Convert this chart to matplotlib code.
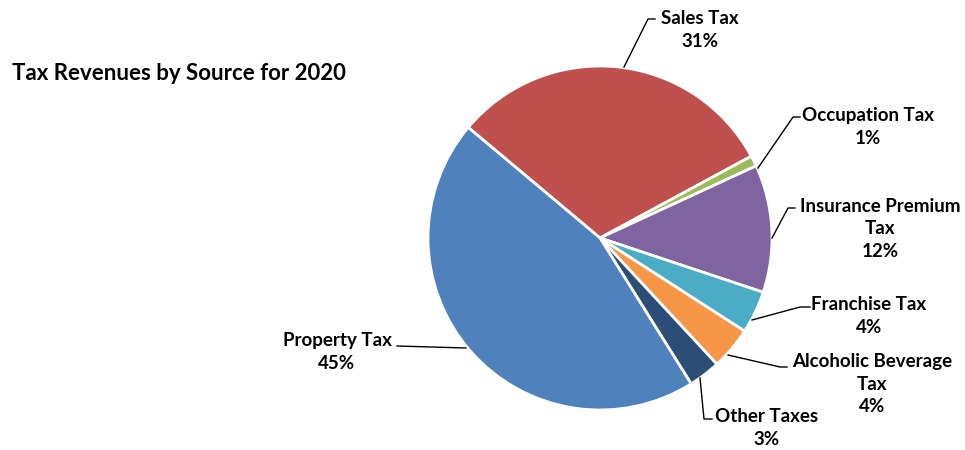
import matplotlib
matplotlib.use("Agg")
import matplotlib.pyplot as plt

# Tax revenue shares for 2020 (percent), clockwise from the top
sources = ['Sales Tax', 'Occupation Tax', 'Insurance Premium\nTax', 'Franchise Tax',
           'Alcoholic Beverage\nTax', 'Other Taxes', 'Property Tax']
shares = [31, 1, 12, 4, 4, 3, 45]
colors = ['#C0504D', '#9BBB59', '#8064A2', '#4BACC6', '#F79646', '#2C4D75', '#4F81BD']

plt.rcParams['font.family'] = ['Lato', 'DejaVu Sans']
plt.rcParams['font.weight'] = 'bold'

W, H = 965, 450
fig = plt.figure(figsize=(W / 100, H / 100), dpi=100)
ax = fig.add_axes([0, 0, 1, 1])

# pie placed in pixel space (y measured from the bottom)
cx, cy, r = 600, H - 238, 172
ax.pie(shares, colors=colors, startangle=140, counterclock=False,
       center=(cx, cy), radius=r, frame=True,
       wedgeprops=dict(edgecolor='white', linewidth=2))
ax.set_xlim(0, W)
ax.set_ylim(0, H)
ax.set_aspect('equal')
ax.axis('off')

# leader lines (pixel coords, top-left origin) and label centres
leaders = [
    [(624, 67), (648, 19), (655, 19)],
    [(758, 168), (793, 117), (800, 117)],
    [(772, 238), (788, 208), (795, 208)],
    [(752, 320), (800, 307), (810, 307)],
    [(728, 355), (780, 367), (787, 367)],
    [(700, 378), (704, 419), (712, 419)],
    [(466, 348), (397, 346)],
]
label_pos = [(700, 30), (868, 127), (880, 229), (869, 316),
             (872, 384), (767, 428), (337, 352)]

for name, val, pts, (lx, ly) in zip(sources, shares, leaders, label_pos):
    xs = [p[0] for p in pts]
    ys = [H - p[1] for p in pts]
    ax.plot(xs, ys, color='black', linewidth=1)
    ax.text(lx, H - ly, f'{name}\n{val}%', ha='center', va='center',
            fontsize=13.5, fontweight='bold', linespacing=1.4, color='black')

ax.text(12, H - 73, 'Tax Revenues by Source for 2020', ha='left', va='center',
        fontsize=16, fontweight='bold', color='black')

fig.savefig('out.png', dpi=100, facecolor='white')
